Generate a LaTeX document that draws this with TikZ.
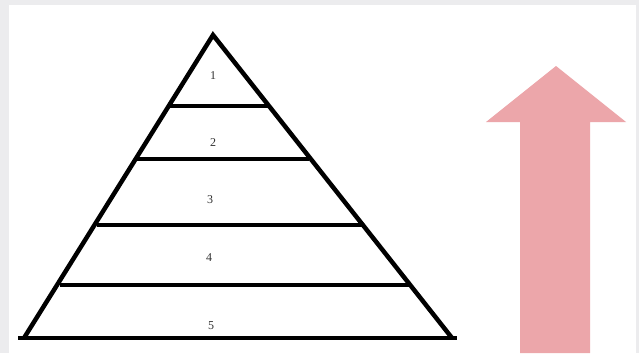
\documentclass[tikz,border=0pt]{standalone}
\usepackage{fontspec}
\setmainfont{Liberation Serif}
\definecolor{bggrey}{RGB}{236,236,238}
\definecolor{arrowpink}{RGB}{236,166,170}
\definecolor{labelgrey}{RGB}{50,50,50}
\tikzset{
  edge/.style={draw=black, line width=4.5pt, line join=miter},
  level/.style={draw=black, line width=4.5pt},
  lvllabel/.style={font=\fontsize{12}{14}\selectfont, text=labelgrey, inner sep=0pt},
  bigarrow/.style={fill=arrowpink, draw=none}
}
\begin{document}
\begin{tikzpicture}[x=1pt,y=-1pt]
\useasboundingbox (0,0) rectangle (639,353);
\fill[bggrey] (0,0) rectangle (639,353);
\fill[white] (9,5) rectangle (636,353);
% pyramid
\coordinate (apex) at (213,35);
\coordinate (bl) at (24,338);
\coordinate (br) at (452,338);
\draw[edge] (bl) -- (apex) -- (br);
\draw[level] (18,338) -- (457,338);
\draw[level] (168,106) -- (270,106);
\draw[level] (137,159) -- (309,159);
\draw[level] (97,225) -- (362,225);
\draw[level] (60,285) -- (410,285);
% labels
\node[lvllabel] (l1) at (213,76) {1};
\node[lvllabel] (l2) at (213,143) {2};
\node[lvllabel] (l3) at (210,200) {3};
\node[lvllabel] (l4) at (209,258) {4};
\node[lvllabel] (l5) at (211,326) {5};
% arrow
\fill[bigarrow] (520,353) -- (520,122) -- (486,122) -- (556,66) -- (626,122) -- (590,122) -- (590,353) -- cycle;
\end{tikzpicture}
\end{document}
